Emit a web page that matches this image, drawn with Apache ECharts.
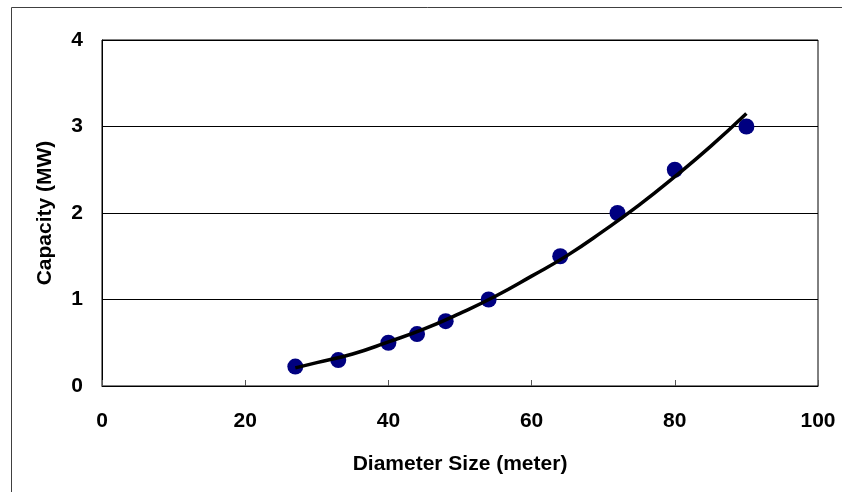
<!DOCTYPE html>
<html>
<head>
<meta charset="utf-8">
<script src="https://cdn.jsdelivr.net/npm/echarts@6/dist/echarts.min.js"></script>
<style>
html,body{margin:0;padding:0;background:#fff;}
#chart{width:842px;height:492px;}
</style>
</head>
<body>
<div id="chart"></div>
<script>
// Observed data (diameter in meters, capacity in MW)
var diameters = [27, 33, 40, 44, 48, 54, 64, 72, 80, 90];
var capacities = [0.225, 0.3, 0.5, 0.6, 0.75, 1.0, 1.5, 2.0, 2.5, 3.0];
// Trend line
var trendX = [27, 30, 35, 40, 45, 50, 55, 60, 65, 70, 75, 80, 85, 90];
var trendY = [0.21, 0.27, 0.37, 0.51, 0.66, 0.84, 1.04, 1.27, 1.51, 1.79, 2.09, 2.42, 2.77, 3.15];
var xTicks = [0, 20, 40, 60, 80, 100];
var yTicks = [0, 1, 2, 3, 4];
var xTitle = 'Diameter Size (meter)';
var yTitle = 'Capacity (MW)';

var pts = diameters.map(function (d, i) { return [d, capacities[i]]; });
var trend = trendX.map(function (d, i) { return [d, trendY[i]]; });
var font = 'Liberation Sans, Arial, sans-serif';

var chart = echarts.init(document.getElementById('chart'), null, {renderer: 'canvas'});
chart.setOption({
  animation: false,
  backgroundColor: '#fff',
  graphic: [{
    type: 'rect',
    shape: {x: 11.5, y: 7.5, width: 1000, height: 1000},
    style: {fill: 'none', stroke: '#404040', lineWidth: 1},
    z: -10, silent: true
  }],
  grid: {
    left: 102, top: 40, right: 24, bottom: 106,
    show: true, borderColor: '#000', borderWidth: 1, backgroundColor: '#fff'
  },
  xAxis: {
    type: 'value',
    min: xTicks[0], max: xTicks[xTicks.length - 1], interval: 20,
    name: xTitle, nameLocation: 'middle', nameGap: 68,
    nameTextStyle: {fontFamily: font, fontWeight: 'bold', fontSize: 21, color: '#000'},
    axisLine: {show: true, lineStyle: {color: '#000', width: 1}},
    axisTick: {show: true, inside: true, length: 6, lineStyle: {color: '#555'}},
    axisLabel: {fontFamily: font, fontWeight: 'bold', fontSize: 21, color: '#000', margin: 25},
    splitLine: {show: false}
  },
  yAxis: {
    type: 'value',
    min: yTicks[0], max: yTicks[yTicks.length - 1], interval: 1,
    name: yTitle, nameLocation: 'middle', nameGap: 46,
    nameTextStyle: {fontFamily: font, fontWeight: 'bold', fontSize: 21, color: '#000'},
    axisLine: {show: true, lineStyle: {color: '#000', width: 1}},
    axisTick: {show: false},
    axisLabel: {fontFamily: font, fontWeight: 'bold', fontSize: 21, color: '#000', margin: 19},
    splitLine: {show: true, lineStyle: {color: '#000', width: 1}}
  },
  series: [{
    type: 'scatter',
    data: pts,
    symbol: 'circle',
    symbolSize: 16,
    itemStyle: {color: '#000080', opacity: 1},
    z: 2
  }, {
    type: 'line',
    data: trend,
    smooth: true,
    showSymbol: false,
    symbol: 'none',
    lineStyle: {color: '#000', width: 3.5},
    z: 3
  }]
});
</script>
</body>
</html>
